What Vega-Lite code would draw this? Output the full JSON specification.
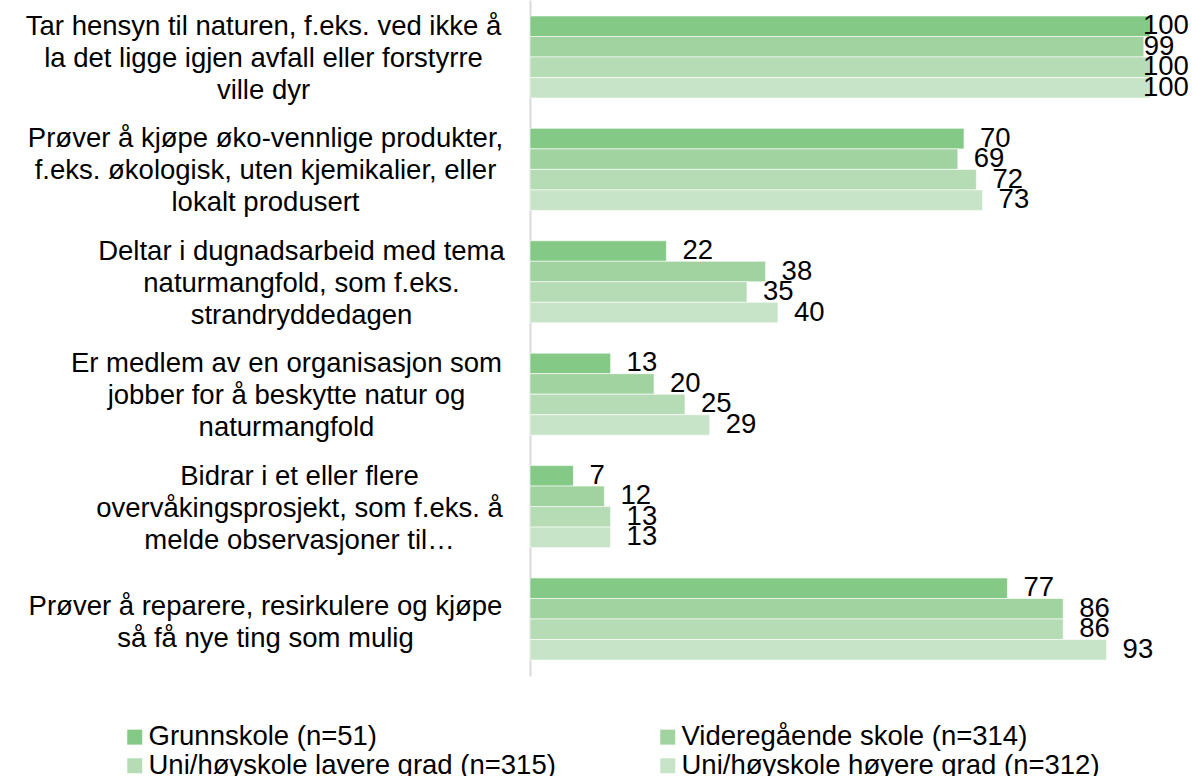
{
  "$schema": "https://vega.github.io/schema/vega-lite/v6.json",
  "autosize": {"type": "none"},
  "width": 620,
  "height": 676,
  "padding": {"left": 530, "top": 0, "right": 42, "bottom": 100},
  "background": "white",
  "config": {
    "view": {"stroke": null},
    "font": "Liberation Sans"
  },
  "data": {
    "values": [
      {"category": "Tar hensyn til naturen, f.eks. ved ikke å|la det ligge igjen avfall eller forstyrre|ville dyr", "group": "Grunnskole (n=51)", "value": 100},
      {"category": "Tar hensyn til naturen, f.eks. ved ikke å|la det ligge igjen avfall eller forstyrre|ville dyr", "group": "Videregående skole (n=314)", "value": 99},
      {"category": "Tar hensyn til naturen, f.eks. ved ikke å|la det ligge igjen avfall eller forstyrre|ville dyr", "group": "Uni/høyskole lavere grad (n=315)", "value": 100},
      {"category": "Tar hensyn til naturen, f.eks. ved ikke å|la det ligge igjen avfall eller forstyrre|ville dyr", "group": "Uni/høyskole høyere grad (n=312)", "value": 100},
      {"category": "Prøver å kjøpe øko-vennlige produkter,|f.eks. økologisk, uten kjemikalier, eller|lokalt produsert", "group": "Grunnskole (n=51)", "value": 70},
      {"category": "Prøver å kjøpe øko-vennlige produkter,|f.eks. økologisk, uten kjemikalier, eller|lokalt produsert", "group": "Videregående skole (n=314)", "value": 69},
      {"category": "Prøver å kjøpe øko-vennlige produkter,|f.eks. økologisk, uten kjemikalier, eller|lokalt produsert", "group": "Uni/høyskole lavere grad (n=315)", "value": 72},
      {"category": "Prøver å kjøpe øko-vennlige produkter,|f.eks. økologisk, uten kjemikalier, eller|lokalt produsert", "group": "Uni/høyskole høyere grad (n=312)", "value": 73},
      {"category": "Deltar i dugnadsarbeid med tema|naturmangfold, som f.eks.|strandryddedagen", "group": "Grunnskole (n=51)", "value": 22},
      {"category": "Deltar i dugnadsarbeid med tema|naturmangfold, som f.eks.|strandryddedagen", "group": "Videregående skole (n=314)", "value": 38},
      {"category": "Deltar i dugnadsarbeid med tema|naturmangfold, som f.eks.|strandryddedagen", "group": "Uni/høyskole lavere grad (n=315)", "value": 35},
      {"category": "Deltar i dugnadsarbeid med tema|naturmangfold, som f.eks.|strandryddedagen", "group": "Uni/høyskole høyere grad (n=312)", "value": 40},
      {"category": "Er medlem av en organisasjon som|jobber for å beskytte natur og|naturmangfold", "group": "Grunnskole (n=51)", "value": 13},
      {"category": "Er medlem av en organisasjon som|jobber for å beskytte natur og|naturmangfold", "group": "Videregående skole (n=314)", "value": 20},
      {"category": "Er medlem av en organisasjon som|jobber for å beskytte natur og|naturmangfold", "group": "Uni/høyskole lavere grad (n=315)", "value": 25},
      {"category": "Er medlem av en organisasjon som|jobber for å beskytte natur og|naturmangfold", "group": "Uni/høyskole høyere grad (n=312)", "value": 29},
      {"category": "Bidrar i et eller flere|overvåkingsprosjekt, som f.eks. å|melde observasjoner til…", "group": "Grunnskole (n=51)", "value": 7},
      {"category": "Bidrar i et eller flere|overvåkingsprosjekt, som f.eks. å|melde observasjoner til…", "group": "Videregående skole (n=314)", "value": 12},
      {"category": "Bidrar i et eller flere|overvåkingsprosjekt, som f.eks. å|melde observasjoner til…", "group": "Uni/høyskole lavere grad (n=315)", "value": 13},
      {"category": "Bidrar i et eller flere|overvåkingsprosjekt, som f.eks. å|melde observasjoner til…", "group": "Uni/høyskole høyere grad (n=312)", "value": 13},
      {"category": "Prøver å reparere, resirkulere og kjøpe|så få nye ting som mulig", "group": "Grunnskole (n=51)", "value": 77},
      {"category": "Prøver å reparere, resirkulere og kjøpe|så få nye ting som mulig", "group": "Videregående skole (n=314)", "value": 86},
      {"category": "Prøver å reparere, resirkulere og kjøpe|så få nye ting som mulig", "group": "Uni/høyskole lavere grad (n=315)", "value": 86},
      {"category": "Prøver å reparere, resirkulere og kjøpe|så få nye ting som mulig", "group": "Uni/høyskole høyere grad (n=312)", "value": 93}
    ]
  },
  "encoding": {
    "y": {
      "field": "category",
      "type": "nominal",
      "sort": null,
      "scale": {"paddingInner": 0.27, "paddingOuter": 0.142},
      "axis": {
        "title": null,
        "ticks": false,
        "domain": true,
        "domainColor": "#d9d9d9",
        "domainWidth": 2,
        "labelExpr": "split(datum.value, '|')",
        "labelFontSize": 27.5,
        "labelColor": "#000000",
        "labelAlign": "center",
        "labelBaseline": "middle",
        "labelLineHeight": 32,
        "labelLimit": 0,
        "labelOffset": {
          "condition": {"test": "indexof(datum.value, 'Prøver å reparere') == 0", "value": -12},
          "value": -30
        },
        "labelPadding": {
          "condition": [
            {"test": "indexof(datum.value, 'Tar') == 0", "value": 267},
            {"test": "indexof(datum.value, 'Deltar') == 0", "value": 229},
            {"test": "indexof(datum.value, 'Er ') == 0", "value": 244},
            {"test": "indexof(datum.value, 'Bidrar') == 0", "value": 231}
          ],
          "value": 265
        }
      }
    },
    "yOffset": {
      "field": "group",
      "type": "nominal",
      "sort": null,
      "scale": {"paddingInner": 0, "paddingOuter": 0}
    },
    "x": {
      "field": "value",
      "type": "quantitative",
      "scale": {"domain": [0, 100], "nice": false},
      "axis": null
    }
  },
  "layer": [
    {
      "mark": {"type": "bar", "stroke": "white", "strokeWidth": 0.6},
      "encoding": {
        "color": {
          "field": "group",
          "type": "nominal",
          "sort": null,
          "scale": {
            "domain": ["Grunnskole (n=51)", "Videregående skole (n=314)", "Uni/høyskole lavere grad (n=315)", "Uni/høyskole høyere grad (n=312)"],
            "range": ["#84C986", "#A1D3A0", "#B5DCB4", "#C8E4C8"]
          },
          "legend": {
            "title": null,
            "orient": "none",
            "legendX": -409,
            "legendY": 723,
            "direction": "horizontal",
            "columns": 2,
            "columnPadding": 98,
            "rowPadding": 0,
            "symbolType": "square",
            "symbolSize": 225,
            "symbolStrokeWidth": 0,
            "labelFontSize": 27.5,
            "labelColor": "#000000",
            "labelOffset": 0,
            "labelLimit": 0,
            "padding": 0
          }
        }
      }
    },
    {
      "mark": {
        "type": "text",
        "align": "left",
        "baseline": "middle",
        "fontSize": 27.5,
        "color": "#000000",
        "dx": {"expr": "datum.value == 100 ? -7 : datum.value == 99 ? 0 : 16"}
      },
      "encoding": {
        "text": {"field": "value", "type": "quantitative"}
      }
    }
  ]
}
